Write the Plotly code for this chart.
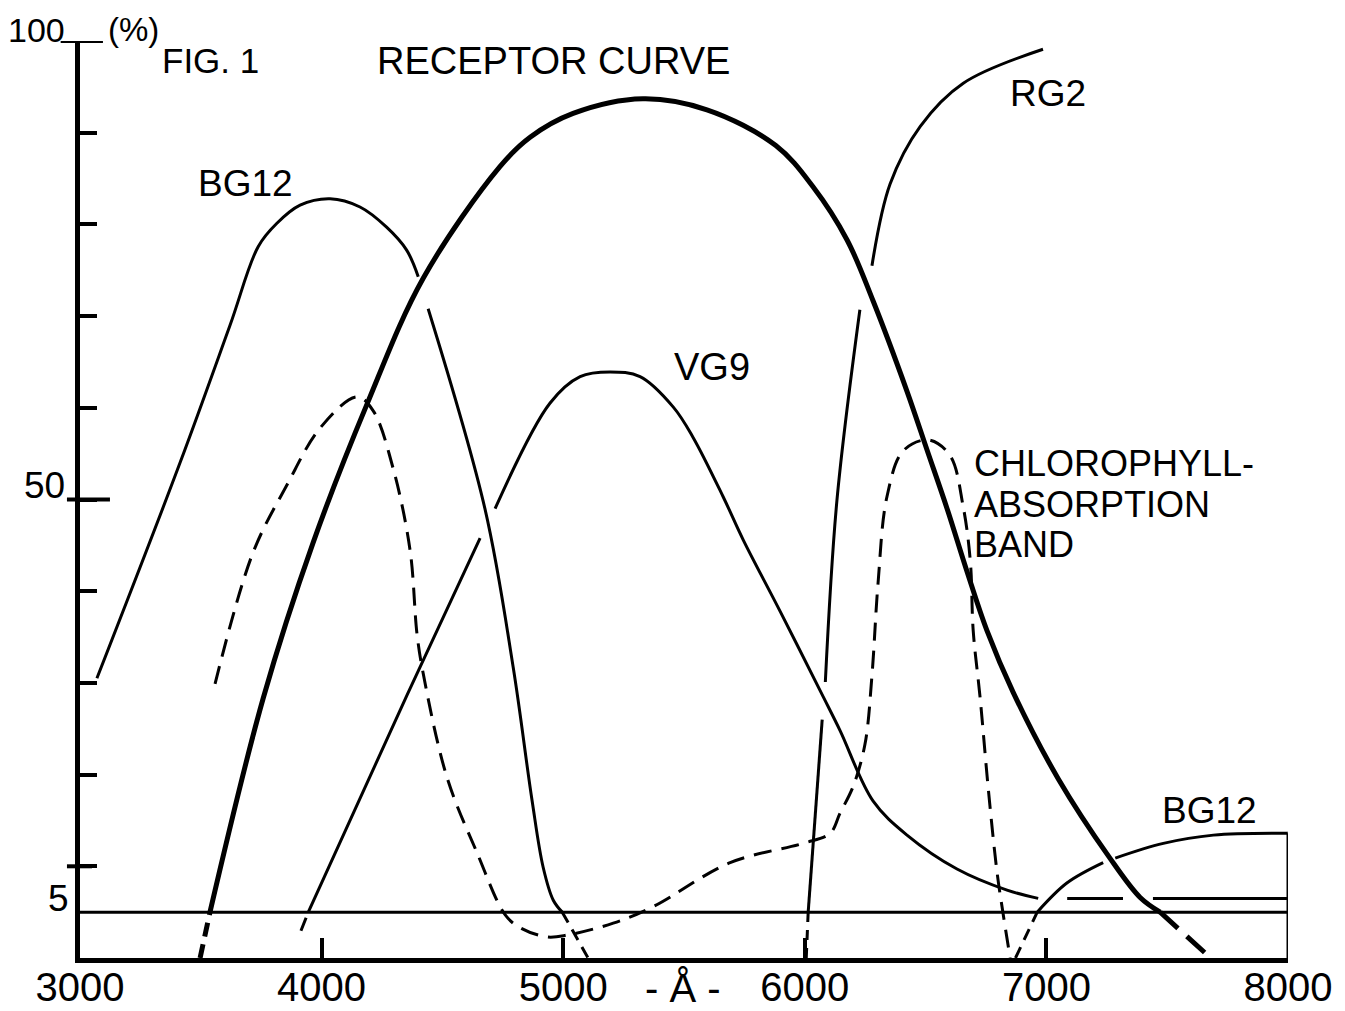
import plotly.graph_objects as go

# ---------------- data (wavelength in Angstrom, transmission / sensitivity in %) ----------------
receptor_wl = [3538, 3758, 3965, 4188, 4420, 4738, 4863, 5041, 5330, 5595, 5880, 6034, 6175,
               6282, 6423, 6506, 6589, 6672, 6754, 6862, 7050, 7260, 7388, 7471]
receptor_pct = [5, 28.3, 45.3, 60.4, 74.1, 86.3, 89.5, 92.1, 93.7, 92.5, 88.6, 84.1, 78.3,
                71.7, 61.8, 55.4, 49.0, 42.1, 35.7, 29.0, 19.5, 11.0, 6.6, 5]
receptor_low_left_wl = [3497, 3538]
receptor_low_left_pct = [0, 5]
receptor_low_right_wl = [7471, 7680]
receptor_low_right_pct = [5, 0]

bg12_wl = [3070, 3414, 3621, 3738, 3814, 3911, 4035, 4159, 4269, 4352, 4400, None, 4441, 4676,
           4793, 4871, 4917, 4959, 4996]
bg12_pct = [30.5, 54.0, 69.0, 77.6, 80.1, 82.1, 82.8, 81.9, 79.7, 77.2, 74.3, None, 70.8, 49.0,
            31.7, 17.2, 9.9, 6.3, 5]
bg12_low_wl = [4996, 5103]
bg12_low_pct = [5, 0]

vg9_wl = [3945, 4354, 4656, None, 4718, 4945, 5070, 5194, 5318, 5455, 5537, 5662, 5745, 5898,
          6076, 6146, 6283, 6423, 6630, 6837, 6966, None, 7086, 7317, None, 7441, 8000]
vg9_pct = [5, 28.7, 45.8, None, 49.0, 60.5, 63.4, 63.9, 63.4, 60.1, 56.8, 50.3, 45.6, 37.8,
           28.5, 24.8, 17.1, 13.4, 9.7, 7.4, 6.5, None, 6.5, 6.5, None, 6.5, 6.5]
vg9_low_wl = [3945, 3900]
vg9_low_pct = [5, 2.0]

rg2_wl = [6014, 6072, None, 6085, 6133, 6228, None, 6278, 6353, 6478, 6656, 6986]
rg2_pct = [5, 26, None, 30.1, 49.9, 70.7, None, 75.5, 84.4, 90.7, 95.4, 99.1]
rg2_low_wl = [6006, 6014]
rg2_low_pct = [0, 5]

bg12r_wl = [6962, 7086, 7235, None, 7285, 7484, 7691, 7998]
bg12r_pct = [5, 8.2, 10.4, None, 10.9, 12.5, 13.4, 13.6]
bg12r_edge_wl = [7998, 8000, 8000]
bg12r_edge_pct = [13.6, 13.6, 0]
bg12r_low_wl = [6872, 6962]
bg12r_low_pct = [0, 5]

chloro_wl = [3559, 3716, 3857, 3994, 4147, 4213, 4296, 4366, 4395, 4420, 4519, 4643, 4760, 4822,
             4933, 5016, 5207, 5372, 5691, 5993, 6105, 6146, 6200, 6249, 6278, 6303, 6340, 6407,
             6511, 6601, 6655, 6685, 6697, 6726, 6760, 6796, 6821, 6850]
chloro_pct = [29.9, 44.2, 51.6, 57.8, 61.2, 59.7, 53.4, 44.5, 35.3, 31.1, 19.7, 11.5, 4.7, 3.3,
              2.3, 2.5, 3.8, 5.6, 10.4, 12.5, 13.6, 15.8, 18.7, 23.3, 30.8, 40.8, 50.3, 55.3,
              56.5, 54.8, 49.3, 43.3, 35.7, 28.3, 18.3, 9.3, 4.8, 0]

baseline_pct = 5

x_tick_vals = [3000, 4000, 5000, 6000, 7000, 8000]
x_tick_text = ["3000", "4000", "5000", "6000", "7000", "8000"]
y_tick_vals = [10, 20, 30, 40, 50, 60, 70, 80, 90]
y_label_text = ["100", "50", "5"]
y_cross_ticks = [10, 50]

FONT = "Liberation Sans, Arial, sans-serif"
BLACK = "#000000"

fig = go.Figure()


def add(x, y, width, dash="solid", shape="spline", smoothing=1.0):
    fig.add_trace(go.Scatter(
        x=x, y=y, mode="lines", connectgaps=False,
        line=dict(color=BLACK, width=width, dash=dash, shape=shape,
                  smoothing=smoothing if shape == "spline" else None),
        hoverinfo="skip", showlegend=False))


# thin filter curves
add(bg12_wl, bg12_pct, 3)
add(bg12_low_wl, bg12_low_pct, 3, dash="12px,8px", shape="linear")
add(vg9_wl, vg9_pct, 3)
add(vg9_low_wl, vg9_low_pct, 3, dash="0px,6px,14px,100px", shape="linear")
add(rg2_wl, rg2_pct, 3)
add(rg2_low_wl, rg2_low_pct, 3, dash="10px,8px", shape="linear")
add(bg12r_wl, bg12r_pct, 3)
add(bg12r_edge_wl, bg12r_edge_pct, 3, shape="linear")
add(bg12r_low_wl, bg12r_low_pct, 3, dash="12px,8px", shape="linear")
# chlorophyll absorption band (dashed)
add(chloro_wl, chloro_pct, 3, dash="18px,10px")
# receptor curve (thick)
add(receptor_wl, receptor_pct, 5)
add(receptor_low_left_wl, receptor_low_left_pct, 5, dash="14px,8px", shape="linear")
add(receptor_low_right_wl, receptor_low_right_pct, 5, dash="24px,12px", shape="linear")

# 5 % reference line
fig.add_shape(type="line", xref="paper", yref="y", x0=0, x1=1, y0=baseline_pct, y1=baseline_pct,
              line=dict(color=BLACK, width=3))
# underline "100__(%)"
fig.add_shape(type="line", xref="paper", yref="y", x0=-0.016, x1=0.019, y0=100, y1=100,
              line=dict(color=BLACK, width=4))
# ticks that cross the axis (10 and 50)
cross_ext = {10: (-0.0108, 0.010), 50: (-0.0108, 0.0248)}
for v in y_cross_ticks:
    x0, x1 = cross_ext[v]
    fig.add_shape(type="line", xref="paper", yref="y", x0=x0, x1=x1, y0=v, y1=v,
                  line=dict(color=BLACK, width=4))

texts = [
    dict(text="FIG. 1", x=3542, y=97.9, size=35),
    dict(text="RECEPTOR CURVE", x=4958, y=97.8, size=38),
    dict(text="BG12", x=3683, y=84.5, size=37),
    dict(text="RG2", x=7007, y=94.3, size=37),
    dict(text="VG9", x=5616, y=64.4, size=38),
    dict(text="BG12", x=7677, y=16.1, size=37),
]
for t in texts:
    fig.add_annotation(text=t["text"], x=t["x"], y=t["y"], xref="x", yref="y", showarrow=False,
                       xanchor="center", yanchor="middle",
                       font=dict(family=FONT, size=t["size"], color=BLACK))
chloro_lines = ["CHLOROPHYLL-", "ABSORPTION", "BAND"]
for i, line in enumerate(chloro_lines):
    fig.add_annotation(text=line, x=6690, y=53.9 - i * 4.4, xref="x", yref="y",
                       showarrow=False, xanchor="left", yanchor="middle",
                       font=dict(family=FONT, size=36, color=BLACK))

# y labels
y_label_pos = [(-0.036, 1.012), (-0.029, 0.515), (-0.018, 0.065)]
y_label_size = [34, 37, 37]
for lab, (px, py), sz in zip(y_label_text, y_label_pos, y_label_size):
    fig.add_annotation(text=lab, x=px, y=py, xref="paper", yref="paper", showarrow=False,
                       xanchor="center", yanchor="middle", font=dict(family=FONT, size=sz, color=BLACK))
fig.add_annotation(text="(%)", x=0.044, y=1.013, xref="paper", yref="paper", showarrow=False,
                   xanchor="center", yanchor="middle", font=dict(family=FONT, size=33, color=BLACK))
# x unit
fig.add_annotation(text="- Å -", x=5496, y=-0.033, xref="x", yref="paper", showarrow=False,
                   xanchor="center", yanchor="middle", font=dict(family=FONT, size=40, color=BLACK))

fig.update_xaxes(range=[3000, 8000], showgrid=False, zeroline=False, showline=True, linecolor=BLACK,
                 linewidth=5, ticks="inside", ticklen=20, tickwidth=4, tickcolor=BLACK,
                 tickvals=x_tick_vals, ticktext=x_tick_text, automargin=False,
                 ticklabelstandoff=-10,
                 tickfont=dict(family=FONT, size=40, color=BLACK))
fig.update_yaxes(range=[0, 100], showgrid=False, zeroline=False, showline=True, linecolor=BLACK,
                 linewidth=5, ticks="inside", ticklen=17, tickwidth=4, tickcolor=BLACK,
                 tickvals=y_tick_vals, showticklabels=False, automargin=False)

# the page body adds an 8 px offset, so the figure is 8 px smaller than the window
fig.update_layout(width=1337, height=1003, margin=dict(l=72, r=57, t=33, b=53),
                  paper_bgcolor="white", plot_bgcolor="white", font=dict(family=FONT, color=BLACK))

fig.write_html("out.html")
